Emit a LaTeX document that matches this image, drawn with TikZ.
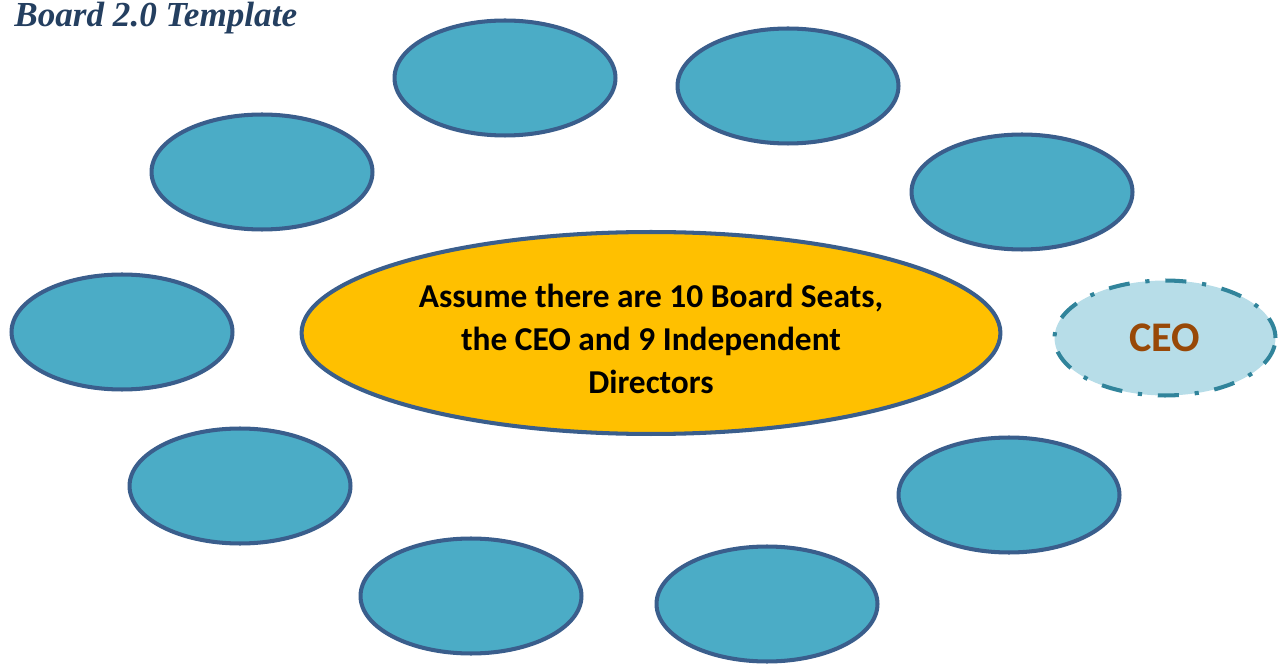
\documentclass[tikz,border=0pt]{standalone}
\usepackage{fontspec}
\setmainfont{Carlito}
\newfontfamily\titlefont{Liberation Serif}
\usepackage{tikz}
\usetikzlibrary{shapes.geometric}
\definecolor{seatblue}{HTML}{4BACC6}
\definecolor{rimblue}{HTML}{3A5E8C}
\definecolor{tablegold}{HTML}{FFC000}
\definecolor{ceofill}{HTML}{B7DDE8}
\definecolor{ceorim}{HTML}{31849B}
\definecolor{ceotext}{HTML}{984807}
\definecolor{titleblue}{HTML}{243F60}

\begin{document}
\begin{tikzpicture}[
		x=0.02cm,y=-0.02cm,
		seat/.style={ellipse,draw=rimblue,line width=2.3pt,fill=seatblue,minimum width=4.42cm,minimum height=2.3cm},
		boardtable/.style={ellipse,draw=rimblue,line width=2.3pt,fill=tablegold,minimum width=13.98cm,minimum height=4.04cm,inner sep=0pt,font=\bfseries\fontsize{19}{24.5}\selectfont,align=center},
		ceo/.style={ellipse,draw=ceorim,line width=2.3pt,fill=ceofill,minimum width=4.42cm,minimum height=2.3cm,dash pattern=on 12pt off 9pt on 2.4pt off 9pt,text=ceotext,font=\bfseries\fontsize{24}{28}\selectfont}
		]
		\useasboundingbox (0,0) rectangle (1281,665);
		\node[font=\titlefont\bfseries\itshape\fontsize{20}{24}\selectfont,text=titleblue,anchor=base west,inner sep=0pt] (title) at (14,27) {Board 2.0 Template};
		% the nine director seats
		\node[seat] (s1) at (505,78) {};
		\node[seat] (s2) at (788,86) {};
		\node[seat] (s3) at (262,172) {};
		\node[seat] (s4) at (1022,192) {};
		\node[seat] (s5) at (122,332) {};
		\node[seat] (s6) at (240,486) {};
		\node[seat] (s7) at (1009,495) {};
		\node[seat] (s8) at (471,596) {};
		\node[seat] (s9) at (767,604) {};
		% board table and the CEO seat
		\node[boardtable] (tbl) at (651,333) {\rule{0pt}{20pt}Assume there are 10 Board Seats,\\the CEO and 9 Independent\\Directors};
		\node[ceo] (chief) at (1165,338) {CEO};
	\end{tikzpicture}
\end{document}
